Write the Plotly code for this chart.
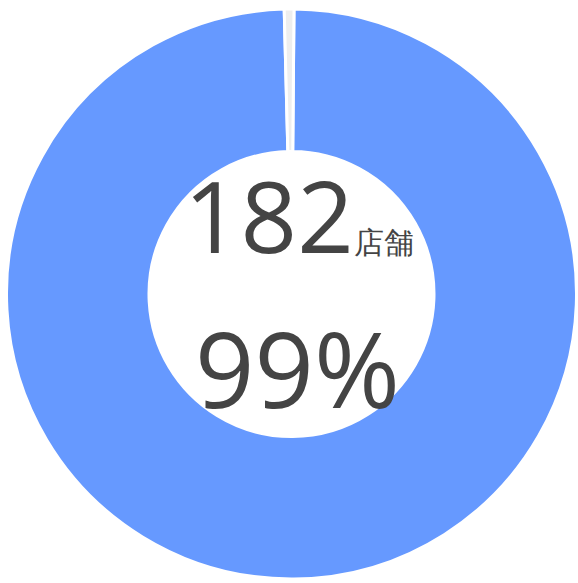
import plotly.graph_objects as go

labels = ["店舗", "その他"]
values = [182, 1]
colors = ["#6699ff", "#eeeeee"]
count_text = "182"
unit_text = "店舗"
pct_text = "99%"

fig = go.Figure(
    go.Pie(
        labels=labels,
        values=values,
        hole=0.5,
        sort=False,
        direction="clockwise",
        rotation=0.5,
        marker=dict(colors=colors, line=dict(color="#ffffff", width=3)),
        textinfo="none",
        hoverinfo="label+value+percent",
        showlegend=False,
        domain=dict(x=[0.01125, 0.9974], y=[0.00686, 0.9846]),
    )
)

fig.add_annotation(
    x=0.518, y=0.632, xref="paper", yref="paper",
    text=f"{count_text}<span style='font-size:30px'>{unit_text}</span>",
    showarrow=False,
    font=dict(family="Open Sans", size=99, color="#444444"),
    xanchor="center", yanchor="middle",
)
fig.add_annotation(
    x=0.5147, y=0.37, xref="paper", yref="paper",
    text=pct_text,
    showarrow=False,
    font=dict(family="Open Sans", size=104, color="#444444"),
    xanchor="center", yanchor="middle",
)

fig.update_layout(
    width=578,
    height=583,
    margin=dict(l=0, r=0, t=0, b=0),
    paper_bgcolor="#ffffff",
    plot_bgcolor="#ffffff",
)

fig.write_html(
    "out.html",
    config={"displayModeBar": False},
    post_script="document.body.style.margin='0';",
)
